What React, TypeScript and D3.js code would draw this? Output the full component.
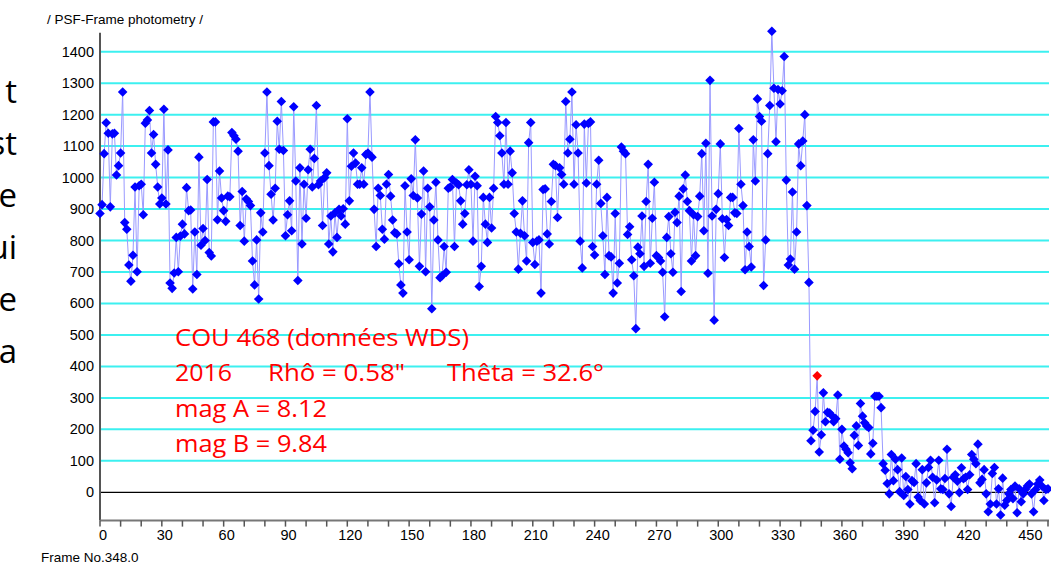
import * as React from "react";
import * as d3 from "d3";

// PSF photometry flux per frame
const fluxFrames0to155 = [
  886, 914, 1076, 1174, 1141, 907, 1139, 1141, 1008, 1038,
  1078, 1272, 857, 836, 722, 671, 753, 970, 701, 974,
  979, 882, 1173, 1183, 1213, 1078, 1137, 1042, 970, 916,
  935, 1217, 916, 1088, 665, 648, 697, 810, 701, 814,
  852, 821, 968, 895, 897, 646, 827, 692, 1065, 785,
  838, 800, 994, 762, 751, 1177, 1177, 866, 1021, 935,
  895, 861, 941, 939, 1143, 1133, 1122, 1084, 848, 956,
  798, 932, 924, 911, 735, 659, 802, 614, 888, 827,
  1078, 1272, 1038, 947, 865, 966, 1179, 1090, 1242, 1086,
  815, 882, 926, 831, 1225, 989, 673, 1031, 789, 979,
  871, 1025, 1090, 970, 1061, 1229, 977, 989, 848, 1000,
  1015, 789, 878, 764, 888, 810, 899, 878, 901, 852,
  1187, 926, 1036, 1078, 1046, 979, 979, 1031, 979, 1073,
  1078, 1272, 1065, 899, 781, 966, 943, 836, 804, 979,
  1010, 941, 865, 825, 821, 726, 659, 633, 974, 827,
  739, 996, 943, 1120, 935, 718,
];
const fluxFrames156to308 = [
  884, 1021, 701, 966, 907, 583, 865, 985, 802, 682,
  688, 781, 699, 966, 970, 994, 781, 983, 977, 926,
  852, 886, 977, 1025, 979, 798, 1004, 974, 654, 718,
  937, 852, 794, 937, 840, 966, 1194, 1175, 1133, 1078,
  979, 1175, 979, 1084, 1015, 886, 827, 709, 823, 926,
  815, 735, 1111, 1175, 794, 724, 798, 802, 633, 962,
  964, 821, 789, 924, 1042, 1038, 873, 1031, 1010, 979,
  1242, 1078, 1122, 1272, 979, 1168, 1078, 798, 713, 1170,
  983, 1172, 1177, 781, 754, 979, 1055, 918, 815, 692,
  937, 752, 748, 633, 886, 665, 728, 1097, 1084, 1076,
  819, 844, 739, 688, 520, 779, 758, 878, 718, 924,
  1042, 728, 871, 985, 752, 746, 735, 699, 558, 810,
  876, 758, 699, 890, 857, 941, 638, 964, 1008, 924,
  895, 735, 882, 752, 876, 941, 1076, 831, 1109, 696,
  1309, 878, 547, 899, 949, 1107, 869, 746, 867, 848,
  937, 937, 888,
];
const fluxFrames309to348 = [
  886, 1156, 979, 911, 707, 827, 781, 716, 1120, 989,
  1250, 1194, 1179, 657, 802, 1076, 1229, 1465, 1284, 1114,
  1280, 1234, 1276, 1385, 992, 722, 741, 954, 709, 827,
  1107, 1038, 1116, 1200, 911, 667, 164, 197, 257, 370,
];
const fluxFrames349to460 = [
  128, 183, 316, 224, 254, 252, 244, 224, 234, 309,
  105, 200, 147, 137, 126, 94, 75, 181, 211, 149,
  282, 242, 221, 211, 206, 122, 156, 305, 305, 305,
  269, 91, 70, 28, -5, 120, 37, 105, 72, 2,
  109, -10, 50, 9, -37, 37, 31, 91, -15, -26,
  72, -37, 30, 79, 102, 48, -33, 39, 102, 11,
  9, 44, 137, -5, -45, 48, 56, 35, -1, 78,
  43, 48, 9, 56, 120, 105, 91, 153, 30, 41,
  72, -5, -62, -37, 60, 79, -37, 11, -72, 45,
  -41, -26, -5, 9, -20, 20, -65, 11, -30, -5,
  9, 20, 26, -5, -62, 9, 26, 39, 20, -26,
  9, 11,
];
const selectedFrame = 348;

const yTicks = [0, 100, 200, 300, 400, 500, 600, 700, 800, 900, 1000, 1100, 1200, 1300, 1400];
const xMinorTicks = d3.range(0, 461, 10);
const xLabelTicks = [0, 30, 60, 90, 120, 150, 180, 210, 240, 270, 300, 330, 360, 390, 420, 450];

// bits of the slide text cut off at the left border
const slideFragments = ["t", "st", "e", "ui", "e", "a"];

const W = 1051;
const H = 565;

export default function App() {
  const flux = [...fluxFrames0to155, ...fluxFrames156to308, ...fluxFrames309to348, ...fluxFrames349to460];
  const data = flux.map((v, i) => ({ frame: i, value: v }));

  const x = d3.scaleLinear().domain([0, 460]).range([100, 1048]);
  const y = d3.scaleLinear().domain([0, 1400]).range([492.3, 51.7]);

  const left = x(0);
  const right = 1049;
  const axisBottom = y(-90);
  const axisTop = y(1460);

  const line = d3.line<any>().x((d) => x(d.frame)).y((d) => y(d.value));
  const diamond = d3.symbol().type(d3.symbolSquare).size(46)();

  const sans = "'Liberation Sans', Arial, sans-serif";
  const note = "'Open Sans', 'Noto Sans', sans-serif";

  return (
    <div style={{ position: "fixed", left: 0, top: 0 }}>
      <svg width={W} height={H} style={{ display: "block", background: "#fff" }}>
        {slideFragments.map((s, i) => (
          <text key={i} x={17} y={103 + i * 52} textAnchor="end" fontFamily={note} fontSize={33} fill="#000">
            {s}
          </text>
        ))}

        <text x={47} y={24} fontFamily={sans} fontSize={13.5} fill="#000">
          / PSF-Frame photometry /
        </text>

        {yTicks.filter((t) => t > 0).map((t) => (
          <line key={t} x1={left} x2={right} y1={y(t)} y2={y(t)} stroke="#3cf0f0" strokeWidth={2} />
        ))}
        <line x1={left} x2={right} y1={y(0)} y2={y(0)} stroke="#000" strokeWidth={1.2} />

        {yTicks.map((t) => (
          <text key={t} x={94} y={y(t) + 5} textAnchor="end" fontFamily={sans} fontSize={14.5} fill="#000">
            {t}
          </text>
        ))}

        <line x1={left} x2={left} y1={axisTop} y2={axisBottom} stroke="#555" strokeWidth={2} />
        <line x1={left} x2={right} y1={axisBottom} y2={axisBottom} stroke="#777" strokeWidth={2} />
        {xMinorTicks.map((t) => (
          <line key={t} x1={x(t)} x2={x(t)} y1={axisBottom} y2={axisBottom + 6} stroke="#555" strokeWidth={1.5} />
        ))}
        {xLabelTicks.map((t) => (
          <text key={t} x={x(t) + 3} y={540} textAnchor="middle" fontFamily={sans} fontSize={14.5} fill="#000">
            {t}
          </text>
        ))}

        <text x={41} y={562} fontFamily={sans} fontSize={13.5} fill="#000">
          Frame No.348.0
        </text>

        <path d={line(data) || ""} fill="none" stroke="#9a9aff" strokeWidth={1} />
        {data.map((d) => (
          <path
            key={d.frame}
            d={diamond || ""}
            transform={`translate(${x(d.frame)},${y(d.value)}) rotate(45)`}
            fill={d.frame === selectedFrame ? "#ff0000" : "#0000ff"}
          />
        ))}

        <g fontFamily={note} fontSize={23} fill="#ff0000">
          <text x={175} y={346} textLength={294} lengthAdjust="spacingAndGlyphs">COU 468 (données WDS)</text>
          <text x={175} y={381} textLength={57} lengthAdjust="spacingAndGlyphs">2016</text>
          <text x={268} y={381} textLength={137} lengthAdjust="spacingAndGlyphs">Rhô = 0.58"</text>
          <text x={447} y={381} textLength={157} lengthAdjust="spacingAndGlyphs">Thêta = 32.6°</text>
          <text x={175} y={417} textLength={152} lengthAdjust="spacingAndGlyphs">mag A = 8.12</text>
          <text x={175} y={452} textLength={152} lengthAdjust="spacingAndGlyphs">mag B = 9.84</text>
        </g>
      </svg>
    </div>
  );
}
